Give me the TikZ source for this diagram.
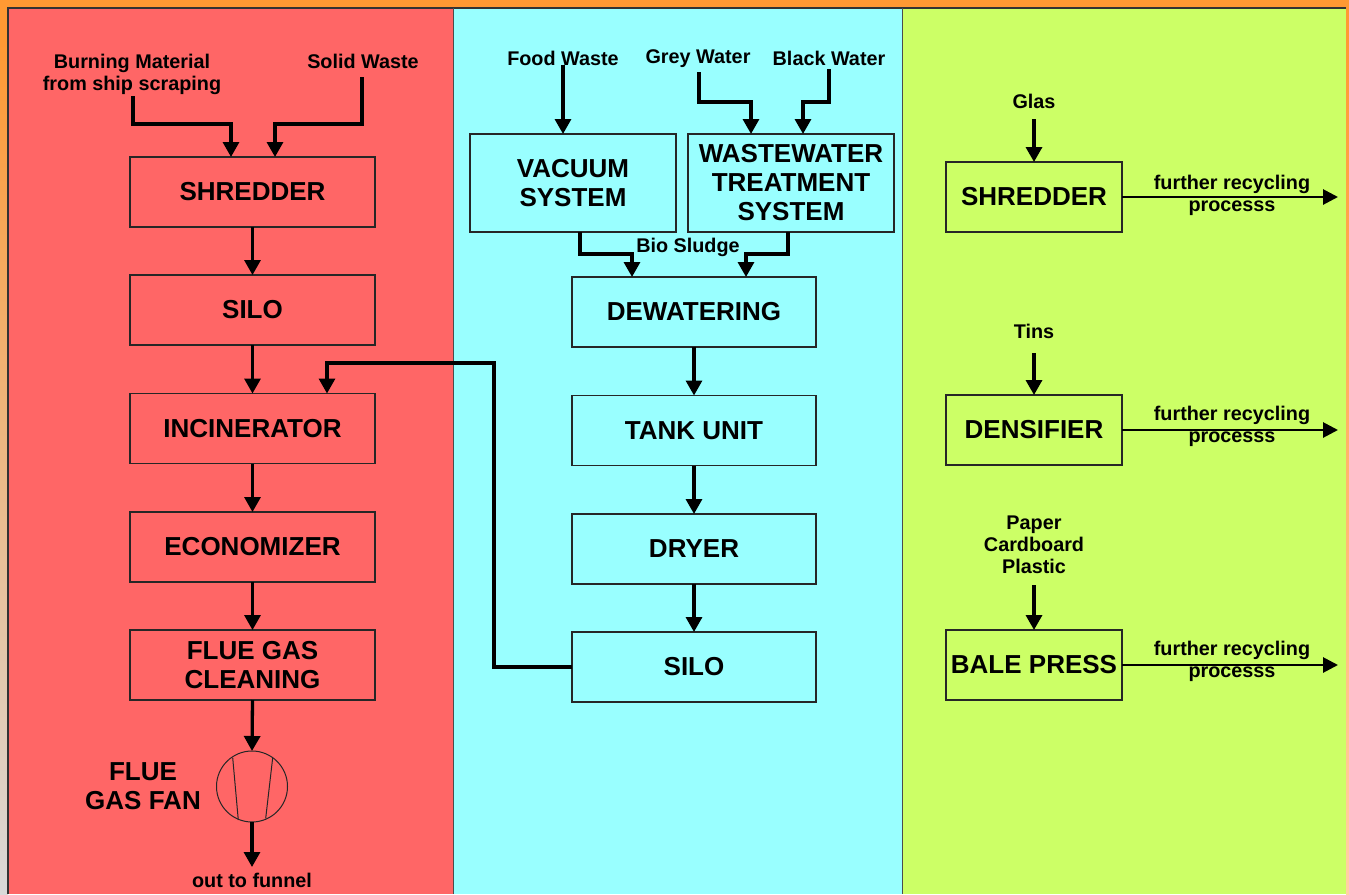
\documentclass[tikz,border=0pt]{standalone}
\usepackage{fontspec}
\setmainfont{Liberation Sans}
\usetikzlibrary{arrows.meta}
\definecolor{bgor}{HTML}{FF9933}
\definecolor{pred}{HTML}{FF6666}
\definecolor{pcyan}{HTML}{99FFFF}
\definecolor{pgreen}{HTML}{CCFF66}
\begin{document}
\begin{tikzpicture}[x=1pt,y=-1pt,
  box/.style={draw=black!85, line width=1.3pt, outer sep=0pt, inner sep=0pt, align=center, font=\bfseries\fontsize{26}{29}\selectfont},
  lbl/.style={inner sep=1pt, align=center, font=\bfseries\fontsize{19.8}{22}\selectfont},
  big/.style={inner sep=0pt, align=center, font=\bfseries\fontsize{26}{29}\selectfont},
  arr/.style={line width=3.3pt, -{Triangle[width=16pt,length=15pt]}},
  harr/.style={line width=2.8pt, -{Triangle[width=15pt,length=15pt]}},
  lbox/.style={box, fill=pred, minimum width=245pt, minimum height=70pt},
  mbox/.style={box, fill=pcyan, minimum width=244pt, minimum height=70pt},
  rbox/.style={box, fill=pgreen, minimum width=176pt, minimum height=70pt},
]
\useasboundingbox (0,0) rectangle (1349,894);
% background and panels
\fill[bgor] (0,0) rectangle (1349,894);
\shade[top color=bgor, bottom color=black!15] (0,40) rectangle (8,894);
\shade[top color=bgor, bottom color=bgor!45!white] (1346,40) rectangle (1349,894);
\fill[pred] (8,8) rectangle (453,894);
\fill[pcyan] (453,8) rectangle (902,894);
\fill[pgreen] (902,8) rectangle (1346,894);
\draw[line width=1.2pt, black!80] (8,894) -- (8,8) -- (1346,8);
\draw[line width=0.8pt, black!70] (453,8) -- (453,894) (902,8) -- (902,894);

% ---------- left column ----------
\node[lbox] (shA) at (252.5,192) {SHREDDER};
\node[lbox] (siloA) at (252.5,310) {SILO};
\node[lbox] (inc) at (252.5,428.5) {INCINERATOR};
\node[lbox] (eco) at (252.5,547) {ECONOMIZER};
\node[lbox] (flue) at (252.5,665) {FLUE GAS\\CLEANING};
\node[circle, draw=black!85, line width=1pt, minimum size=71pt, inner sep=0pt, outer sep=0pt] (fan) at (252,786.5) {};
\draw[line width=1pt, black!85] (232.7,757.7) -- (238.3,820) (272.7,757.7) -- (265.7,818.3);
\node[big] (fanlbl) at (143,786.5) {FLUE\\GAS FAN};
\node[lbl, anchor=north] (funnel) at (252,872) {out to funnel};

\node[lbl, anchor=south] (burn) at (132,96) {Burning Material\\from ship scraping};
\node[lbl, anchor=base] (solid) at (363,68) {Solid Waste};
\coordinate (cb) at (231,124);
\coordinate (cs) at (275,124);
\draw[arr] ([xshift=1pt]burn.south) |- (cb) -- (cb |- shA.north);
\draw[arr] ([shift={(-1,9)}]solid.base) |- (cs) -- (cs |- shA.north);

\draw[arr] (shA.south) -- (siloA.north);
\draw[arr] (siloA.south) -- (inc.north);
\draw[arr] (inc.south) -- (eco.north);
\draw[arr] (eco.south) -- (flue.north);
\draw[arr] (flue.south) -- (fan.north);
\draw[arr] (fan.south) -- ([yshift=5pt]funnel.north);

% ---------- middle column ----------
\node[box, fill=pcyan, minimum width=206pt, minimum height=98pt] (vac) at (573,183) {VACUUM\\SYSTEM};
\node[box, fill=pcyan, minimum width=206pt, minimum height=98pt] (wwt) at (791,183) {WASTEWATER\\TREATMENT\\SYSTEM};
\node[mbox] (dew) at (694,312) {DEWATERING};
\node[mbox] (tank) at (694,430.5) {TANK UNIT};
\node[mbox] (dryer) at (694,549) {DRYER};
\node[mbox] (siloB) at (694,667) {SILO};

\node[lbl, anchor=base] (food) at (563,65) {Food Waste};
\node[lbl, anchor=base] (grey) at (698,63) {Grey Water};
\node[lbl, anchor=base] (black) at (829,65) {Black Water};
\node[lbl, anchor=base] (bio) at (688,252) {Bio Sludge};
\coordinate (cg) at (751,102);
\coordinate (ck) at (803,102);
\coordinate (cv) at (632,254);
\coordinate (cw) at (746,254);
\draw[arr] (food.base) -- (food.base |- vac.north);
\draw[arr] ([shift={(1,9)}]grey.base) |- (cg) -- (cg |- wwt.north);
\draw[arr] ([shift={(0,4)}]black.base) |- (ck) -- (ck |- wwt.north);
\draw[arr] ([xshift=7pt]vac.south) |- (cv) -- (cv |- dew.north);
\draw[arr] ([xshift=-3pt]wwt.south) |- (cw) -- (cw |- dew.north);

\draw[arr] (dew.south) -- (tank.north);
\draw[arr] (tank.south) -- (dryer.north);
\draw[arr] (dryer.south) -- (siloB.north);

\coordinate (ci1) at (494,363);
\coordinate (ci2) at (327,363);
\draw[arr] (siloB.west) -| (ci1) -- (ci2) -- (ci2 |- inc.north);

% ---------- right column ----------
\node[rbox] (shC) at (1034,197) {SHREDDER};
\node[rbox] (dens) at (1034,430) {DENSIFIER};
\node[rbox] (bale) at (1034,665) {BALE PRESS};

\node[lbl, anchor=base] (glas) at (1034,108) {Glas};
\node[lbl, anchor=base] (tins) at (1034,338) {Tins};
\node[lbl, anchor=south] (paper) at (1034,575) {Paper\\Cardboard\\Plastic};
\draw[arr] ([yshift=-11pt]glas.base) -- (shC.north);
\draw[arr] ([yshift=-15pt]tins.base) -- (dens.north);
\draw[arr] ([yshift=-10pt]paper.south) -- (bale.north);

\coordinate (e1) at (1338,197);
\coordinate (e2) at (1338,430);
\coordinate (e3) at (1338,665);
\draw[harr] (shC.east) -- (e1);
\draw[harr] (dens.east) -- (e2);
\draw[harr] (bale.east) -- (e3);
\node[lbl, inner sep=0pt] (fr1) at (1232,195.5) {further recycling\\processs};
\node[lbl, inner sep=0pt] (fr2) at (1232,426.5) {further recycling\\processs};
\node[lbl, inner sep=0pt] (fr3) at (1232,661) {further recycling\\processs};
\end{tikzpicture}
\end{document}
